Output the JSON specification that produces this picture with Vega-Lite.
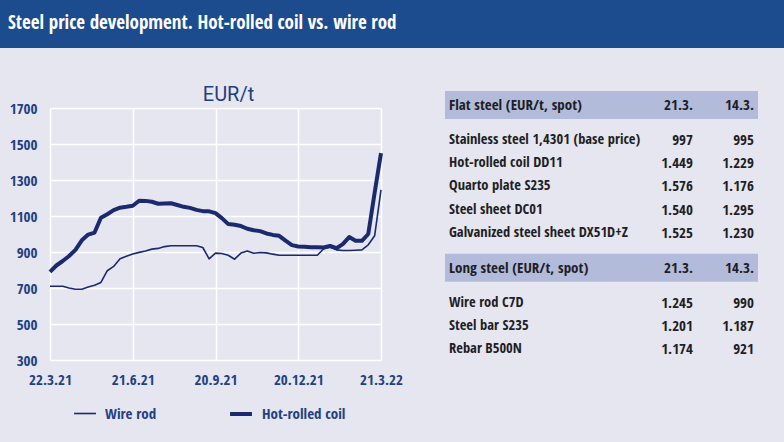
{
  "$schema": "https://vega.github.io/schema/vega-lite/v6.json",
  "background": "#e5e6f0",
  "padding": {"left": 0, "top": 0, "right": 0, "bottom": 30},
  "spacing": 37,
  "config": {
    "view": {"stroke": null},
    "font": "Open Sans Condensed, DejaVu Sans Condensed, sans-serif"
  },
  "datasets": {
    "banner": [{"t": "Steel price development. Hot-rolled coil vs. wire rod"}],
    "lines": [
      {"date": "2021-03-22", "Wire rod": 710, "Hot-rolled coil": 790},
      {"date": "2021-03-29", "Wire rod": 710, "Hot-rolled coil": 825},
      {"date": "2021-04-05", "Wire rod": 710, "Hot-rolled coil": 850},
      {"date": "2021-04-12", "Wire rod": 700, "Hot-rolled coil": 878},
      {"date": "2021-04-19", "Wire rod": 693, "Hot-rolled coil": 912},
      {"date": "2021-04-26", "Wire rod": 693, "Hot-rolled coil": 965},
      {"date": "2021-05-03", "Wire rod": 705, "Hot-rolled coil": 997},
      {"date": "2021-05-10", "Wire rod": 715, "Hot-rolled coil": 1008},
      {"date": "2021-05-17", "Wire rod": 731, "Hot-rolled coil": 1090},
      {"date": "2021-05-24", "Wire rod": 796, "Hot-rolled coil": 1110},
      {"date": "2021-05-31", "Wire rod": 820, "Hot-rolled coil": 1133},
      {"date": "2021-06-07", "Wire rod": 862, "Hot-rolled coil": 1146},
      {"date": "2021-06-14", "Wire rod": 877, "Hot-rolled coil": 1151},
      {"date": "2021-06-21", "Wire rod": 889, "Hot-rolled coil": 1157},
      {"date": "2021-06-28", "Wire rod": 898, "Hot-rolled coil": 1185},
      {"date": "2021-07-05", "Wire rod": 906, "Hot-rolled coil": 1184},
      {"date": "2021-07-12", "Wire rod": 916, "Hot-rolled coil": 1179},
      {"date": "2021-07-19", "Wire rod": 920, "Hot-rolled coil": 1168},
      {"date": "2021-07-26", "Wire rod": 930, "Hot-rolled coil": 1170},
      {"date": "2021-08-02", "Wire rod": 935, "Hot-rolled coil": 1171},
      {"date": "2021-08-09", "Wire rod": 935, "Hot-rolled coil": 1161},
      {"date": "2021-08-16", "Wire rod": 935, "Hot-rolled coil": 1151},
      {"date": "2021-08-23", "Wire rod": 935, "Hot-rolled coil": 1145},
      {"date": "2021-08-30", "Wire rod": 935, "Hot-rolled coil": 1134},
      {"date": "2021-09-06", "Wire rod": 925, "Hot-rolled coil": 1127},
      {"date": "2021-09-13", "Wire rod": 862, "Hot-rolled coil": 1126},
      {"date": "2021-09-20", "Wire rod": 894, "Hot-rolled coil": 1116},
      {"date": "2021-09-27", "Wire rod": 892, "Hot-rolled coil": 1088},
      {"date": "2021-10-04", "Wire rod": 882, "Hot-rolled coil": 1055},
      {"date": "2021-10-11", "Wire rod": 860, "Hot-rolled coil": 1051},
      {"date": "2021-10-18", "Wire rod": 894, "Hot-rolled coil": 1044},
      {"date": "2021-10-25", "Wire rod": 906, "Hot-rolled coil": 1029},
      {"date": "2021-11-01", "Wire rod": 893, "Hot-rolled coil": 1021},
      {"date": "2021-11-08", "Wire rod": 897, "Hot-rolled coil": 1016},
      {"date": "2021-11-15", "Wire rod": 895, "Hot-rolled coil": 1003},
      {"date": "2021-11-22", "Wire rod": 888, "Hot-rolled coil": 995},
      {"date": "2021-11-29", "Wire rod": 882, "Hot-rolled coil": 990},
      {"date": "2021-12-06", "Wire rod": 882, "Hot-rolled coil": 963},
      {"date": "2021-12-13", "Wire rod": 882, "Hot-rolled coil": 938},
      {"date": "2021-12-20", "Wire rod": 882, "Hot-rolled coil": 931},
      {"date": "2021-12-27", "Wire rod": 882, "Hot-rolled coil": 929},
      {"date": "2022-01-03", "Wire rod": 882, "Hot-rolled coil": 927},
      {"date": "2022-01-10", "Wire rod": 882, "Hot-rolled coil": 927},
      {"date": "2022-01-17", "Wire rod": 918, "Hot-rolled coil": 925},
      {"date": "2022-01-24", "Wire rod": 926, "Hot-rolled coil": 934},
      {"date": "2022-01-31", "Wire rod": 912, "Hot-rolled coil": 921},
      {"date": "2022-02-07", "Wire rod": 908, "Hot-rolled coil": 944},
      {"date": "2022-02-14", "Wire rod": 908, "Hot-rolled coil": 983},
      {"date": "2022-02-21", "Wire rod": 910, "Hot-rolled coil": 962},
      {"date": "2022-02-28", "Wire rod": 912, "Hot-rolled coil": 962},
      {"date": "2022-03-07", "Wire rod": 940, "Hot-rolled coil": 1000},
      {"date": "2022-03-14", "Wire rod": 990, "Hot-rolled coil": 1229},
      {"date": "2022-03-21", "Wire rod": 1245, "Hot-rolled coil": 1449}
    ],
    "table": [
      {"row": "h1", "kind": "header", "label": "Flat steel (EUR/t, spot)", "v1": "21.3.", "v2": "14.3."},
      {"row": "r1", "kind": "item", "label": "Stainless steel 1,4301 (base price)", "v1": "997", "v2": "995"},
      {"row": "r2", "kind": "item", "label": "Hot-rolled coil DD11", "v1": "1.449", "v2": "1.229"},
      {"row": "r3", "kind": "item", "label": "Quarto plate S235", "v1": "1.576", "v2": "1.176"},
      {"row": "r4", "kind": "item", "label": "Steel sheet DC01", "v1": "1.540", "v2": "1.295"},
      {"row": "r5", "kind": "item", "label": "Galvanized steel sheet DX51D+Z", "v1": "1.525", "v2": "1.230"},
      {"row": "h2", "kind": "header", "label": "Long steel (EUR/t, spot)", "v1": "21.3.", "v2": "14.3."},
      {"row": "r6", "kind": "item", "label": "Wire rod C7D", "v1": "1.245", "v2": "990"},
      {"row": "r7", "kind": "item", "label": "Steel bar S235", "v1": "1.201", "v2": "1.187"},
      {"row": "r8", "kind": "item", "label": "Rebar B500N", "v1": "1.174", "v2": "921"}
    ]
  },
  "vconcat": [
    {
      "width": 784,
      "height": 48,
      "view": {"fill": "#1c4c8e", "stroke": null},
      "data": {"name": "banner"},
      "mark": {"type": "text", "x": 8, "y": 23, "align": "left", "baseline": "middle", "fontSize": 19, "fontWeight": "bold", "color": "white"},
      "encoding": {"text": {"field": "t"}}
    },
    {
      "spacing": 28,
      "hconcat": [
        {
          "width": 381,
          "height": 252,
          "title": {"text": "EUR/t", "fontSize": 20, "fontWeight": "normal", "font": "Roboto", "color": "#1f3f80", "offset": -4, "dx": 38, "frame": "group"},
          "data": {"name": "lines"},
          "transform": [{"fold": ["Wire rod", "Hot-rolled coil"], "as": ["series", "price"]}],
          "mark": {"type": "line", "color": "#1b2a6e", "strokeJoin": "round"},
          "encoding": {
            "x": {
              "field": "date", "type": "temporal",
              "scale": {"type": "utc", "range": [50, 381], "domain": [{"year": 2021, "month": 3, "date": 22, "utc": true}, {"year": 2022, "month": 3, "date": 21, "utc": true}]},
              "axis": {
                "title": null,
                "values": [
                  {"year": 2021, "month": 3, "date": 22, "utc": true},
                  {"year": 2021, "month": 6, "date": 21, "utc": true},
                  {"year": 2021, "month": 9, "date": 20, "utc": true},
                  {"year": 2021, "month": 12, "date": 20, "utc": true},
                  {"year": 2022, "month": 3, "date": 21, "utc": true}
                ],
                "format": "%-d.%-m.%y",
                "grid": true, "gridColor": "white", "gridWidth": 1.5, "gridOpacity": 1,
                "domain": false, "ticks": false, "labelPadding": 12, "labelFlush": false,
                "labelFontSize": 15, "labelFontWeight": "bold", "labelColor": "#1f4182"
              }
            },
            "y": {
              "field": "price", "type": "quantitative",
              "scale": {"domain": [300, 1700]},
              "axis": {
                "title": null, "format": "d", "offset": -50,
                "values": [300, 500, 700, 900, 1100, 1300, 1500, 1700],
                "grid": true, "gridColor": "white", "gridWidth": 1.5, "gridOpacity": 1,
                "domain": false, "ticks": false, "labelPadding": 13,
                "labelFontSize": 15, "labelFontWeight": "bold", "labelColor": "#1f4182"
              }
            },
            "strokeWidth": {
              "field": "series", "type": "ordinal",
              "scale": {"domain": ["Wire rod", "Hot-rolled coil"], "range": [1.6, 4]},
              "legend": {
                "title": null, "orient": "none", "legendX": 73, "legendY": 401, "direction": "horizontal",
                "symbolType": "stroke", "symbolSize": 480, "symbolStrokeColor": "#1b2a6e",
                "labelFontSize": 15, "labelFontWeight": "bold", "labelColor": "#1f4182",
                "columnPadding": 65, "labelOffset": 8
              }
            }
          }
        },
        {
          "width": 313,
          "height": 244,
          "data": {"name": "table"},
          "encoding": {
            "y": {
              "field": "row", "type": "nominal",
              "scale": {"type": "point", "padding": 0, "range": [-3, 241],
                "domain": ["h1", "g1", "g2", "r1", "g3", "r2", "g4", "r3", "g5", "r4", "g6", "r5", "g7", "g8", "h2", "g9", "g10", "r6", "g11", "r7", "g12", "r8"]},
              "axis": null
            }
          },
          "layer": [
            {
              "transform": [{"filter": "datum.kind === 'header'"}],
              "mark": {"type": "rule", "color": "#b3bbdb", "strokeWidth": 28}
            },
            {
              "mark": {"type": "text", "align": "left", "baseline": "middle", "fontSize": 14.5, "fontWeight": "bold", "color": "#1e1e24"},
              "encoding": {
                "x": {"datum": "name", "type": "nominal", "scale": {"type": "point", "padding": 0, "range": [4, 309], "domain": ["name", "a", "b", "c", "d1", "d2"]}, "axis": null},
                "text": {"field": "label"},
                "size": {"condition": {"test": "datum.kind === 'header'", "value": 15}, "value": 14.5}
              }
            },
            {
              "mark": {"type": "text", "align": "right", "baseline": "middle", "fontSize": 15, "fontWeight": "bold", "color": "#1e1e24"},
              "encoding": {
                "x": {"datum": "d1", "type": "nominal"},
                "text": {"field": "v1"}
              }
            },
            {
              "mark": {"type": "text", "align": "right", "baseline": "middle", "fontSize": 15, "fontWeight": "bold", "color": "#1e1e24"},
              "encoding": {
                "x": {"datum": "d2", "type": "nominal"},
                "text": {"field": "v2"}
              }
            }
          ]
        }
      ]
    }
  ]
}
